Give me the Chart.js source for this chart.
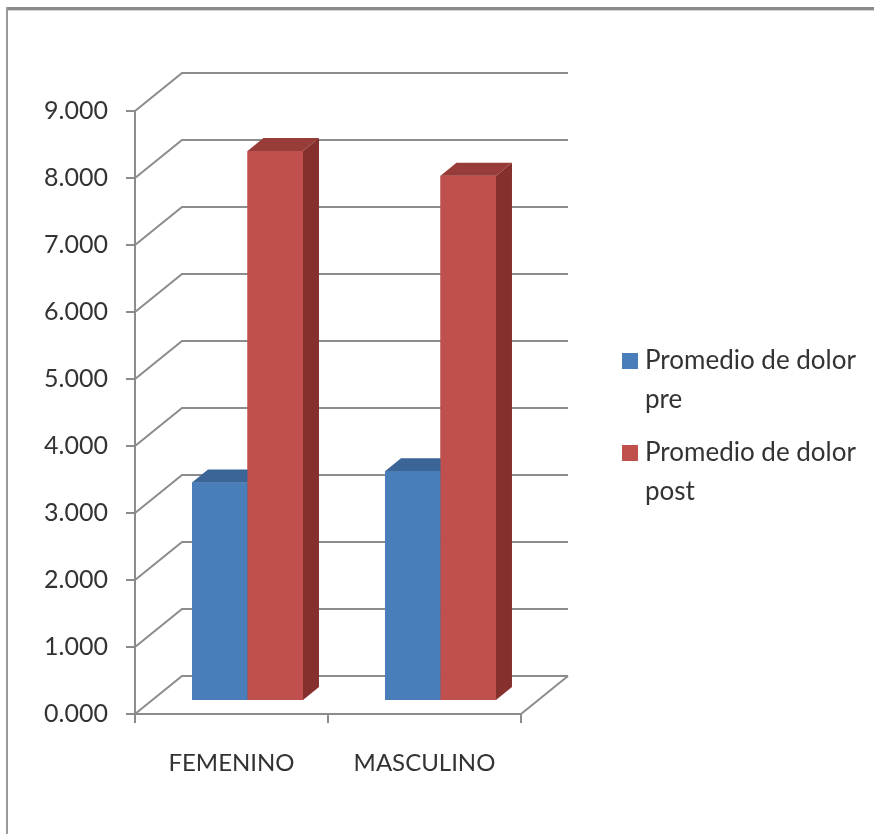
<!DOCTYPE html>
<html>
<head>
<meta charset="utf-8">
<script src="https://cdn.jsdelivr.net/npm/chart.js@4.4.1/dist/chart.umd.min.js"></script>
<style>
html,body{margin:0;padding:0;background:#fff;}
#wrap{width:874px;height:834px;position:relative;}
</style>
</head>
<body>
<div id="wrap"><canvas id="c" width="874" height="834"></canvas></div>
<script>
// ---- data ----
const categories = ['FEMENINO', 'MASCULINO'];
const seriesNames = ['Promedio de dolor pre', 'Promedio de dolor post'];
const legendLines = [['Promedio de dolor', 'pre'], ['Promedio de dolor', 'post']];
const preValues = [3.26, 3.43];
const postValues = [8.21, 7.84];
const yMin = 0, yMax = 9, yStep = 1;

// ---- styles ----
const FONT = 'Lato, "Open Sans", sans-serif';
const TEXT = '#333333';
const GRID = '#8c8c8c';
const WALL_DX = 47, WALL_DY = -38;   // depth of the floor/walls
const BAR_OFF_X = 16, BAR_OFF_Y = -13; // bar front face inset from front plane
const BAR_DX = 16, BAR_DY = -13;       // bar depth
const colors = [
  {front: '#4A7EBB', top: '#3A6596', side: '#2F5582'},
  {front: '#C0504D', top: '#983C39', side: '#86302E'}
];

function drawFaces(ctx, bar, c) {
  const p = bar.getProps(['x', 'y', 'base', 'width'], true);
  const l = p.x - p.width / 2, r = p.x + p.width / 2;
  const top = Math.min(p.y, p.base), bot = Math.max(p.y, p.base);
  ctx.fillStyle = c.top;
  ctx.beginPath();
  ctx.moveTo(l, top); ctx.lineTo(r, top);
  ctx.lineTo(r + BAR_DX, top + BAR_DY); ctx.lineTo(l + BAR_DX, top + BAR_DY);
  ctx.closePath(); ctx.fill();
  ctx.fillStyle = c.side;
  ctx.beginPath();
  ctx.moveTo(r, top); ctx.lineTo(r + BAR_DX, top + BAR_DY);
  ctx.lineTo(r + BAR_DX, bot + BAR_DY); ctx.lineTo(r, bot);
  ctx.closePath(); ctx.fill();
}

const threeD = {
  id: 'threeD',
  beforeDraw(chart) {
    const ctx = chart.ctx;
    ctx.save();
    ctx.fillStyle = '#ffffff';
    ctx.fillRect(0, 0, chart.width, chart.height);
    ctx.fillStyle = '#8a8a8a';
    ctx.fillRect(6, 7, chart.width - 6, 3);
    ctx.fillStyle = '#d2d2d2';
    ctx.fillRect(8, 10, chart.width - 8, 1);
    ctx.fillStyle = '#9a9a9a';
    ctx.fillRect(6, 7, 2, chart.height - 7);
    ctx.restore();
  },
  beforeDatasetsDraw(chart) {
    const {ctx, chartArea: a, scales} = chart;
    const y = scales.y;
    ctx.save();
    ctx.strokeStyle = GRID;
    ctx.lineWidth = 2;
    y.ticks.forEach(t => {
      const py = y.getPixelForValue(t.value);
      ctx.beginPath();
      ctx.moveTo(a.left, py);
      ctx.lineTo(a.left + WALL_DX, py + WALL_DY);
      ctx.lineTo(a.right + WALL_DX, py + WALL_DY);
      ctx.stroke();
    });
    const p0 = y.getPixelForValue(0);
    ctx.beginPath();
    ctx.moveTo(a.right, p0);
    ctx.lineTo(a.right + WALL_DX, p0 + WALL_DY);
    ctx.stroke();
    ctx.restore();
    ctx.save();
    ctx.translate(BAR_OFF_X, BAR_OFF_Y);
  },
  afterDatasetsDraw(chart) {
    const ctx = chart.ctx;
    // redraw in front-to-back painter order: series 0 then series 1, each with its 3D faces
    chart.data.datasets.forEach((ds, i) => {
      const meta = chart.getDatasetMeta(i);
      meta.data.forEach(bar => {
        bar.draw(ctx);
        drawFaces(ctx, bar, colors[i]);
      });
    });
    ctx.restore();
  },
  afterDraw(chart) {
    const ctx = chart.ctx;
    ctx.save();
    ctx.font = '26px ' + FONT;
    ctx.textBaseline = 'alphabetic';
    ctx.textAlign = 'left';
    chart.data.datasets.forEach((ds, i) => {
      const sqTop = 353 + i * 92;
      ctx.fillStyle = colors[i].front;
      ctx.fillRect(622, sqTop, 16, 16);
      ctx.fillStyle = TEXT;
      legendLines[i].forEach((line, j) => {
        ctx.fillText(line, 645, sqTop + 16 + j * 39);
      });
    });
    ctx.restore();
  }
};

const chart = new Chart(document.getElementById('c'), {
  type: 'bar',
  data: {
    labels: categories,
    datasets: [
      {label: seriesNames[0], data: preValues, backgroundColor: colors[0].front, clip: false},
      {label: seriesNames[1], data: postValues, backgroundColor: colors[1].front, clip: false}
    ]
  },
  options: {
    responsive: false,
    animation: false,
    devicePixelRatio: 1,
    categoryPercentage: 0.575,
    barPercentage: 1.0,
    layout: {padding: {left: 0, top: 111, right: 353, bottom: 60}},
    plugins: {legend: {display: false}, tooltip: {enabled: false}},
    scales: {
      x: {
        offset: true,
        grid: {offset: true, drawOnChartArea: false, drawTicks: true, tickLength: 9, color: GRID, lineWidth: 2},
        border: {display: true, color: GRID, width: 2},
        ticks: {color: TEXT, font: {family: FONT, size: 24}, padding: 26, maxRotation: 0},
        afterFit(s) { s.height = 60; }
      },
      y: {
        min: yMin, max: yMax,
        grid: {drawOnChartArea: false, drawTicks: true, tickLength: 9, color: GRID, lineWidth: 2},
        border: {display: true, color: GRID, width: 2},
        ticks: {stepSize: yStep, color: TEXT, font: {family: FONT, size: 25}, padding: 18,
          callback: v => Number(v).toFixed(3)},
        afterFit(s) { s.width = 135; }
      }
    }
  },
  plugins: [threeD]
});
</script>
</body>
</html>
